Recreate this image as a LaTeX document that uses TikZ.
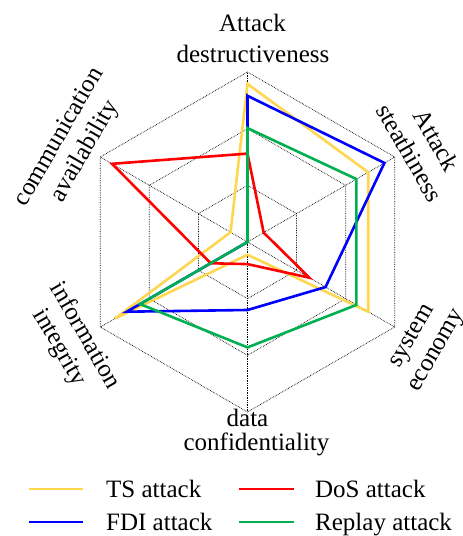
\documentclass[tikz,border=0pt]{standalone}
\usepackage{fontspec}
\setmainfont{Liberation Serif}
\definecolor{tsgold}{RGB}{255,214,79}
\definecolor{fdiblue}{RGB}{0,0,255}
\definecolor{dosred}{RGB}{255,0,0}
\definecolor{replaygreen}{RGB}{0,176,80}
% one closed polygon over the six axes (values as fractions of the outer radius)
\newcommand\radarline[7]{%
  \draw[series,#1] (90:{#2*\R}) -- (30:{#3*\R}) -- (-30:{#4*\R}) -- (-90:{#5*\R})
    -- (210:{#6*\R}) -- (150:{#7*\R}) -- cycle;}
\begin{document}
\begin{tikzpicture}[x=1pt,y=1pt,
  grid/.style={densely dotted, line width=0.7pt, black},
  series/.style={line width=2.6pt},
  axislabel/.style={font=\fontsize{25}{30}\selectfont, inner sep=0pt, anchor=base},
  legendtext/.style={font=\fontsize{25}{30}\selectfont, inner sep=0pt, anchor=base west},
  legendline/.style={line width=2.2pt}]
\useasboundingbox (-247.5,-294) rectangle (215.5,242);
\def\R{170}
% hexagonal grid and spokes
\foreach \f in {0.3333,0.6667,1} {
  \draw[grid] (90:{\f*\R}) -- (30:{\f*\R}) -- (-30:{\f*\R}) -- (-90:{\f*\R})
    -- (210:{\f*\R}) -- (150:{\f*\R}) -- cycle;
}
\foreach \a in {90,30,-30,-90,210,150} {
  \draw[grid] (0,0) -- (\a:\R);
}
% data series
\radarline{tsgold}{0.93}{0.82}{0.82}{0.075}{0.90}{0.115}
\radarline{fdiblue}{0.86}{0.93}{0.53}{0.40}{0.82}{0}
\radarline{dosred}{0.52}{0.11}{0.42}{0.13}{0.25}{0.92}
\radarline{replaygreen}{0.67}{0.74}{0.74}{0.62}{0.73}{0}
% axis labels
\node[axislabel] (destr1) at (5,210.3) {Attack};
\node[axislabel] (destr2) at (5.5,179.5) {destructiveness};
\node[axislabel,rotate=-60] (stealth1) at (181.8,97.7) {Attack};
\node[axislabel,rotate=-60] (stealth2) at (155,85) {steathiness};
\node[axislabel,rotate=60] (econ1) at (169.4,-96.8) {system};
\node[axislabel,rotate=60] (econ2) at (193.5,-111.3) {economy};
\node[axislabel] (conf1) at (0,-184.7) {data};
\node[axislabel] (conf2) at (9,-208) {confidentiality};
\node[axislabel,rotate=-60] (integ1) at (-168.2,-96.8) {information};
\node[axislabel,rotate=-60] (integ2) at (-193.5,-108.8) {integrity};
\node[axislabel,rotate=60] (avail1) at (-183.1,101.8) {communication};
\node[axislabel,rotate=60] (avail2) at (-157.3,87.3) {availability};
% legend
\coordinate (ts-a) at (-218.5,-247.3);  \coordinate (ts-b) at (-164.5,-247.3);
\coordinate (dos-a) at (-8.5,-247.3);   \coordinate (dos-b) at (46.5,-247.3);
\coordinate (fdi-a) at (-218.5,-279.7); \coordinate (fdi-b) at (-164.5,-279.7);
\coordinate (rep-a) at (-8.5,-279.7);   \coordinate (rep-b) at (46.5,-279.7);
\draw[legendline,tsgold] (ts-a) -- (ts-b);
\draw[legendline,dosred] (dos-a) -- (dos-b);
\draw[legendline,fdiblue] (fdi-a) -- (fdi-b);
\draw[legendline,replaygreen] (rep-a) -- (rep-b);
\node[legendtext] (ts-t) at (-141.5,-255.3) {TS attack};
\node[legendtext] (dos-t) at (67.5,-255.3) {DoS attack};
\node[legendtext] (fdi-t) at (-141.5,-288) {FDI attack};
\node[legendtext] (rep-t) at (67.5,-288) {Replay attack};
\end{tikzpicture}
\end{document}
